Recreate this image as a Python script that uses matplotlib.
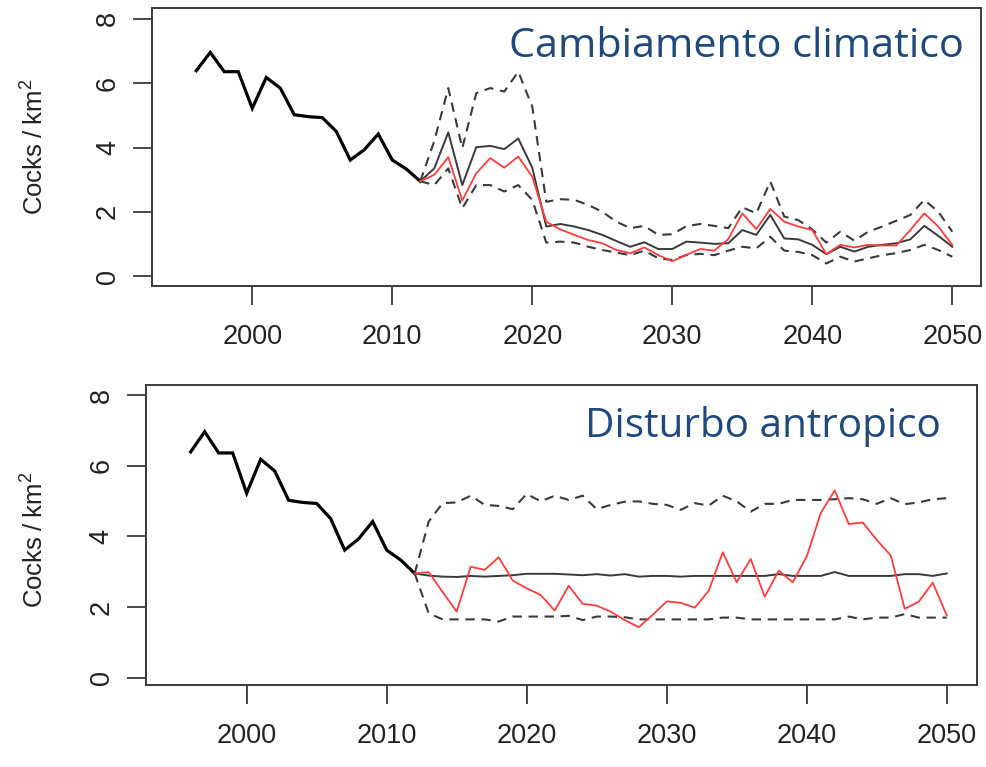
"""Cocks density: observed series and projections under two scenarios."""
import numpy as np
import matplotlib
matplotlib.use('Agg')
import matplotlib.pyplot as plt

plt.rcParams['font.family'] = ['Liberation Sans', 'DejaVu Sans']
plt.rcParams['mathtext.fontset'] = 'custom'
plt.rcParams['mathtext.rm'] = 'Liberation Sans'
plt.rcParams['mathtext.it'] = 'Liberation Sans'

years_hist = np.arange(1996, 2013)
hist = [6.39, 6.96, 6.36, 6.36, 5.22, 6.18, 5.85, 5.02, 4.96, 4.93,
        4.50, 3.61, 3.93, 4.42, 3.61, 3.33, 2.95]

years_proj = np.arange(2012, 2051)

# Cambiamento climatico (2012-2050)
cc_mean = [2.95, 3.35, 4.47, 2.83, 4.01, 4.05, 3.95, 4.28, 3.37, 1.54,
           1.62, 1.54, 1.43, 1.28, 1.09, 0.91, 1.05, 0.84, 0.84, 1.07,
           1.04, 1.00, 1.02, 1.43, 1.28, 1.90, 1.17, 1.14, 0.97, 0.68,
           0.91, 0.76, 0.91, 0.97, 1.02, 1.14, 1.56, 1.25, 0.91]
cc_red = [2.95, 3.15, 3.70, 2.35, 3.20, 3.67, 3.37, 3.72, 3.09, 1.69,
          1.45, 1.28, 1.12, 1.02, 0.81, 0.71, 0.89, 0.65, 0.46, 0.66,
          0.84, 0.79, 1.15, 1.95, 1.46, 2.09, 1.69, 1.54, 1.43, 0.68,
          0.97, 0.89, 0.97, 0.95, 0.95, 1.43, 1.95, 1.54, 0.97]
cc_hi = [2.95, 4.20, 5.85, 3.98, 5.69, 5.85, 5.74, 6.36, 5.27, 2.31,
         2.39, 2.37, 2.21, 2.00, 1.69, 1.49, 1.56, 1.28, 1.30, 1.55,
         1.62, 1.56, 1.49, 2.14, 1.95, 2.94, 1.85, 1.74, 1.45, 1.04,
         1.38, 1.10, 1.38, 1.54, 1.72, 1.90, 2.37, 2.00, 1.38]
cc_lo = [2.95, 2.83, 3.35, 2.11, 2.83, 2.83, 2.63, 2.83, 2.37, 1.04,
         1.07, 1.04, 0.91, 0.81, 0.73, 0.65, 0.79, 0.55, 0.50, 0.65,
         0.69, 0.65, 0.79, 0.91, 0.86, 1.22, 0.79, 0.75, 0.65, 0.39,
         0.60, 0.45, 0.55, 0.65, 0.71, 0.81, 0.97, 0.81, 0.60]

# Disturbo antropico (2012-2050)
da_mean = [2.95, 2.89, 2.86, 2.85, 2.88, 2.86, 2.88, 2.90, 2.94, 2.94,
           2.94, 2.92, 2.90, 2.93, 2.89, 2.93, 2.86, 2.88, 2.88, 2.86,
           2.88, 2.88, 2.88, 2.88, 2.88, 2.88, 2.93, 2.88, 2.88, 2.88,
           2.99, 2.88, 2.88, 2.88, 2.88, 2.93, 2.93, 2.88, 2.95]
da_red = [2.95, 2.99, 2.42, 1.87, 3.14, 3.05, 3.41, 2.75, 2.53, 2.34,
          1.90, 2.60, 2.09, 2.04, 1.87, 1.63, 1.43, 1.78, 2.16, 2.12,
          1.98, 2.46, 3.55, 2.70, 3.36, 2.29, 3.03, 2.70, 3.43, 4.66,
          5.30, 4.35, 4.39, 3.90, 3.46, 1.95, 2.15, 2.69, 1.76]
da_hi = [2.95, 4.42, 4.94, 4.96, 5.15, 4.89, 4.86, 4.77, 5.20, 4.99,
         5.15, 5.03, 5.15, 4.77, 4.89, 4.98, 4.99, 4.92, 4.89, 4.75,
         4.94, 4.87, 5.15, 4.99, 4.70, 4.92, 4.92, 5.03, 5.03, 5.03,
         5.05, 5.08, 5.05, 4.92, 5.08, 4.91, 4.96, 5.05, 5.08]
da_lo = [2.95, 1.82, 1.65, 1.65, 1.65, 1.65, 1.59, 1.73, 1.73, 1.73,
         1.73, 1.75, 1.63, 1.73, 1.73, 1.71, 1.65, 1.65, 1.65, 1.65,
         1.65, 1.65, 1.70, 1.70, 1.65, 1.65, 1.65, 1.65, 1.65, 1.65,
         1.65, 1.73, 1.65, 1.70, 1.70, 1.80, 1.70, 1.70, 1.70]

x_ticks = [2000, 2010, 2020, 2030, 2040, 2050]
y_ticks = [0, 2, 4, 6, 8]

W, H = 987, 767
GREY = '#3a3a3a'
RED = '#ff3c3c'
TITLE_BLUE = '#1f497d'


def px_axes(fig, left, top, right, bottom):
    # pixel box -> figure fraction
    return fig.add_axes([left / W, 1 - bottom / H, (right - left) / W, (bottom - top) / H])


def panel(ax, mean, red, hi, lo, xlim, ylim):
    ax.plot(years_hist, hist, color='black', lw=2.3, solid_joinstyle='miter')
    ax.plot(years_proj, hi, color=GREY, lw=1.5, dashes=(4.5, 3.2))
    ax.plot(years_proj, lo, color=GREY, lw=1.5, dashes=(4.5, 3.2))
    ax.plot(years_proj, mean, color=GREY, lw=1.4)
    ax.plot(years_proj, red, color=RED, lw=1.3)

    ax.set_xlim(*xlim)
    ax.set_ylim(*ylim)
    ax.set_xticks(x_ticks)
    ax.set_yticks(y_ticks)
    ax.tick_params(axis='both', direction='out', length=13.5, width=1.3,
                   color=GREY, labelsize=19.5, labelcolor='#222222')
    ax.tick_params(axis='x', pad=14)
    ax.tick_params(axis='y', pad=9)
    for lab in ax.get_yticklabels():
        lab.set_rotation(90)
        lab.set_va('center')
    for s in ax.spines.values():
        s.set_color(GREY)
        s.set_linewidth(1.4)


def main():
    fig = plt.figure(figsize=(W / 100, H / 100), dpi=100)

    ax1 = px_axes(fig, 152.3, 8.3, 981, 286)
    panel(ax1, cc_mean, cc_red, cc_hi, cc_lo, (1992.86, 2052.05), (-0.311, 8.333))
    ax2 = px_axes(fig, 146, 385, 977, 685)
    panel(ax2, da_mean, da_red, da_hi, da_lo, (1992.81, 2052.16), (-0.207, 8.283))

    ylab = r'$\mathrm{Cocks\;/\;km^2}$'
    fig.text(35 / W, 1 - 147 / H, ylab, rotation=90, ha='center', va='center',
             fontsize=18.5, color='#222222')
    fig.text(35 / W, 1 - 540 / H, ylab, rotation=90, ha='center', va='center',
             fontsize=18.5, color='#222222')

    fig.text(964 / W, 1 - 57 / H, 'Cambiamento climatico', ha='right', va='baseline',
             fontsize=29.8, color=TITLE_BLUE, family=['Open Sans', 'DejaVu Sans'])
    fig.text(941 / W, 1 - 437 / H, 'Disturbo antropico', ha='right', va='baseline',
             fontsize=29.2, color=TITLE_BLUE, family=['Open Sans', 'DejaVu Sans'])

    fig.savefig('out.png', dpi=100)


if __name__ == '__main__':
    main()
